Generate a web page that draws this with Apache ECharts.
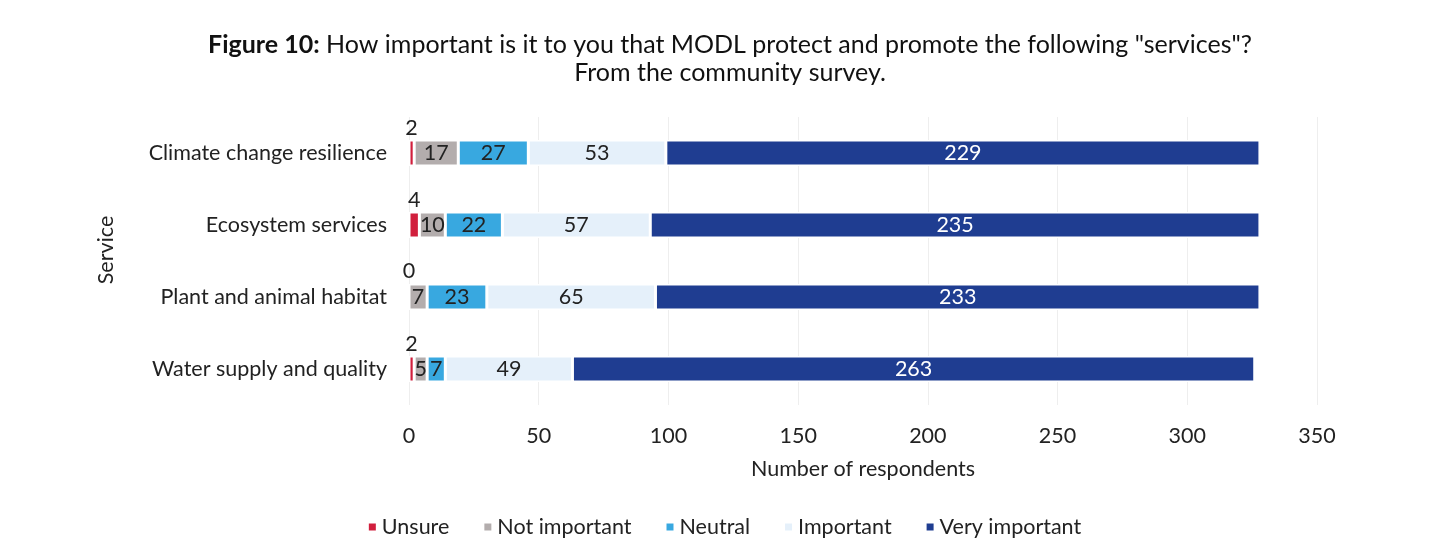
<!DOCTYPE html>
<html><head><meta charset="utf-8">
<script src="https://cdn.jsdelivr.net/npm/echarts@6/dist/echarts.min.js"></script>
<style>html,body{margin:0;padding:0;background:#fff}#c{width:1448px;height:554px}</style>
</head><body><div id="c"></div>
<script>
const categories = ["Climate change resilience", "Ecosystem services", "Plant and animal habitat", "Water supply and quality"];
const seriesNames = ["Unsure", "Not important", "Neutral", "Important", "Very important"];
const unsure = [2, 4, 0, 2];
const notImportant = [17, 10, 7, 5];
const neutral = [27, 22, 23, 7];
const important = [53, 57, 65, 49];
const veryImportant = [229, 235, 233, 263];
const xTicks = [0, 50, 100, 150, 200, 250, 300, 350];
const colors = ["#d11f3d", "#b3adad", "#38a8e0", "#e5f0fa", "#1f3d91"];
const labelColors = ["#222", "#222", "#222", "#222", "#ffffff"];
const values = [unsure, notImportant, neutral, important, veryImportant];
const FONT = "Lato, 'Open Sans', sans-serif";
const FS = 21.5;

const series = seriesNames.map((name, i) => ({
  name: name, type: 'bar', stack: 'total', barWidth: 26,
  data: values[i],
  itemStyle: { color: colors[i], borderColor: '#fff', borderWidth: 1.5 },
  label: {
    show: true,
    position: i === 0 ? 'top' : 'inside',
    distance: 1,
    color: labelColors[i], fontSize: FS, fontFamily: FONT
  }
}));

const chart = echarts.init(document.getElementById('c'));
chart.setOption({
  backgroundColor: '#fff',
  animation: false,
  title: {
    text: '{b|Figure 10:} How important is it to you that MODL protect and promote the following "services"?\nFrom the community survey.',
    left: 725, textAlign: 'center', top: 26,
    textStyle: { fontSize: 25, fontWeight: 'normal', color: '#111', fontFamily: FONT, lineHeight: 28,
      rich: { b: { fontWeight: 'bold', fontSize: 25, fontFamily: FONT, color: '#111' } } }
  },
  legend: {
    bottom: 11, left: 'center', itemWidth: 9, itemHeight: 9, itemGap: 33,
    icon: 'rect',
    textStyle: { fontSize: FS, color: '#222', fontFamily: FONT }
  },
  grid: { left: 409, right: 131, top: 117, bottom: 149 },
  xAxis: {
    type: 'value', min: 0, max: 350, interval: 50,
    name: 'Number of respondents', nameLocation: 'middle', nameGap: 53,
    nameTextStyle: { fontSize: FS, color: '#222', fontFamily: FONT },
    axisLabel: { fontSize: FS, color: '#222', fontFamily: FONT, margin: 20 },
    axisLine: { show: false }, axisTick: { show: false },
    splitLine: { show: true, lineStyle: { color: '#eeeeee', width: 1 } }
  },
  yAxis: {
    type: 'category', data: categories, inverse: true,
    name: 'Service', nameLocation: 'middle', nameGap: 292, nameRotate: 90,
    nameTextStyle: { fontSize: FS, color: '#222', fontFamily: FONT, padding: [0, 0, 0, 22] },
    axisLabel: { fontSize: FS, color: '#222', fontFamily: FONT, margin: 22 },
    axisLine: { show: false }, axisTick: { show: false }
  },
  series: series
});
</script></body></html>
